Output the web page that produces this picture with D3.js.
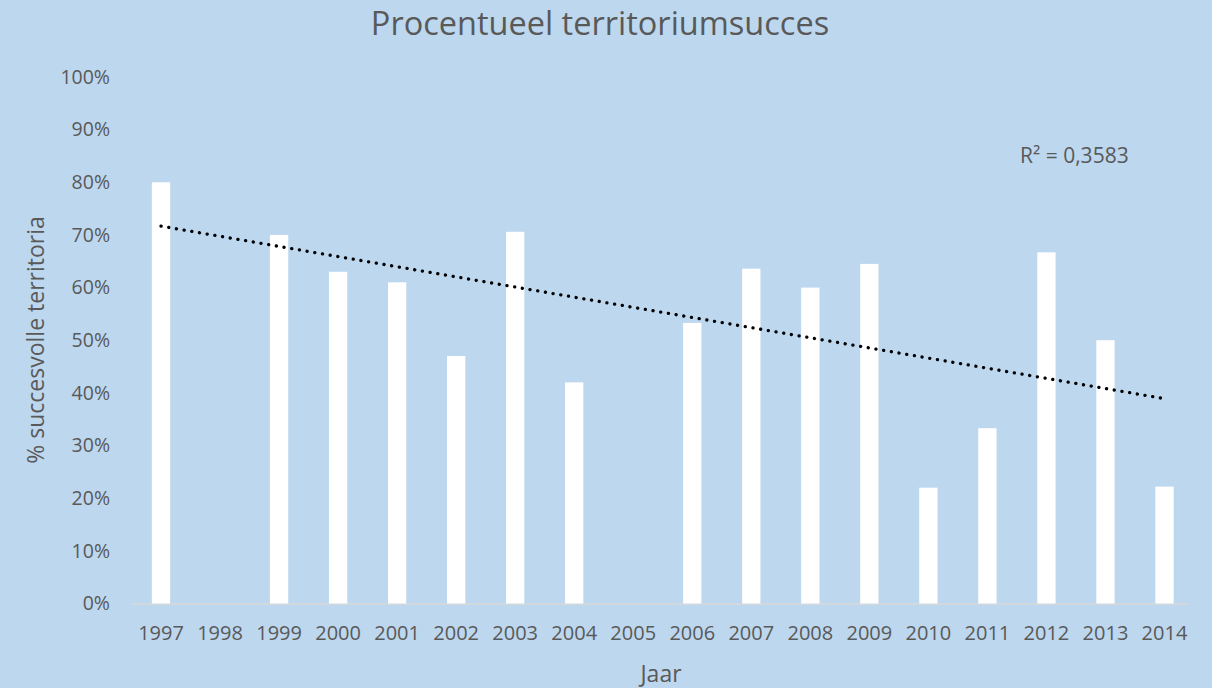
<!DOCTYPE html>
<html>
<head>
<meta charset="utf-8">
<script src="https://cdn.jsdelivr.net/npm/d3@7"></script>
<style>
  html, body { margin: 0; padding: 0; background: #bdd7ee; }
  svg { display: block; font-family: "Open Sans", "Noto Sans", sans-serif; }
</style>
</head>
<body>
<div id="chart"></div>
<script>
// data (null = no value that year)
const years = ["1997", "1998", "1999", "2000", "2001", "2002", "2003", "2004", "2005",
               "2006", "2007", "2008", "2009", "2010", "2011", "2012", "2013", "2014"];
const success = [80, null, 70, 63, 61, 47, 70.6, 42, null,
                 53.3, 63.6, 60, 64.5, 22, 33.3, 66.7, 50, 22.2];
const yTicks = [0, 10, 20, 30, 40, 50, 60, 70, 80, 90, 100];
const titleText = "Procentueel territoriumsucces";
const xTitle = "Jaar";
const yTitle = "% succesvolle territoria";
const r2Label = "R\u00b2 = 0,3583";

var w = 1212, h = 688;
var textColor = "#595959";
var font = '"Open Sans", "Noto Sans", sans-serif';

var svg = d3.select("#chart")
    .append("svg")
    .attr("width", w)
    .attr("height", h);

svg.append("rect")
    .attr("width", w)
    .attr("height", h)
    .attr("fill", "#bdd7ee");

// scales
var x = d3.scaleBand()
    .domain(years)
    .range([131.5, 1194])
    .paddingInner(0.69)
    .paddingOuter(0.345);

var y = d3.scaleLinear()
    .domain([0, 100])
    .range([603.5, 77]);

// y axis labels (no line, no ticks)
var yAxis = svg.append("g")
    .attr("transform", "translate(110,0)")
    .call(d3.axisLeft(y).tickValues(yTicks).tickFormat(d => d + "%").tickSize(0).tickPadding(0))
    .attr("font-family", font);
yAxis.select(".domain").remove();
yAxis.selectAll("text")
    .attr("fill", textColor)
    .style("font-size", "19.5px");

// x axis
var xAxis = svg.append("g")
    .attr("transform", "translate(0," + y(0) + ")")
    .call(d3.axisBottom(x).tickSize(0).tickPadding(22))
    .attr("font-family", font);
xAxis.select(".domain")
    .attr("stroke", "#d9d9d9")
    .attr("stroke-width", 1.5)
    .attr("d", "M131.5,0.5H1188");
xAxis.selectAll("text")
    .attr("fill", textColor)
    .style("font-size", "20px");

// bars
svg.append("g")
    .selectAll("rect")
    .data(years.map((yr, i) => ({ year: yr, value: success[i] })).filter(d => d.value != null))
    .enter()
    .append("rect")
    .attr("x", d => x(d.year))
    .attr("y", d => y(d.value))
    .attr("width", x.bandwidth())
    .attr("height", d => y(0) - y(d.value))
    .attr("fill", "#ffffff");

// linear trendline, least squares over the years that have a value
var pts = success.map((v, i) => [i, v]).filter(p => p[1] != null);
var mx = d3.mean(pts, p => p[0]), my = d3.mean(pts, p => p[1]);
var slope = d3.sum(pts, p => (p[0] - mx) * (p[1] - my)) / d3.sum(pts, p => (p[0] - mx) * (p[0] - mx));
var icpt = my - slope * mx;
var trend = [0, years.length - 1].map(i => [x(years[i]) + x.bandwidth() / 2, y(icpt + slope * i)]);

svg.append("path")
    .attr("d", d3.line()(trend))
    .attr("fill", "none")
    .attr("stroke", "#000000")
    .attr("stroke-width", 3.3)
    .attr("stroke-linecap", "round")
    .attr("stroke-dasharray", "0.1,7.7");

svg.append("text")
    .attr("x", 1020)
    .attr("y", 163)
    .attr("fill", textColor)
    .style("font-size", "21px")
    .text(r2Label);

// titles
svg.append("text")
    .attr("x", 600)
    .attr("y", 35)
    .attr("text-anchor", "middle")
    .attr("fill", textColor)
    .style("font-size", "32.5px")
    .text(titleText);

svg.append("text")
    .attr("x", 661)
    .attr("y", 682)
    .attr("text-anchor", "middle")
    .attr("fill", textColor)
    .style("font-size", "23px")
    .text(xTitle);

svg.append("text")
    .attr("transform", "translate(44,340) rotate(-90)")
    .attr("text-anchor", "middle")
    .attr("fill", textColor)
    .style("font-size", "23px")
    .text(yTitle);
</script>
</body>
</html>
